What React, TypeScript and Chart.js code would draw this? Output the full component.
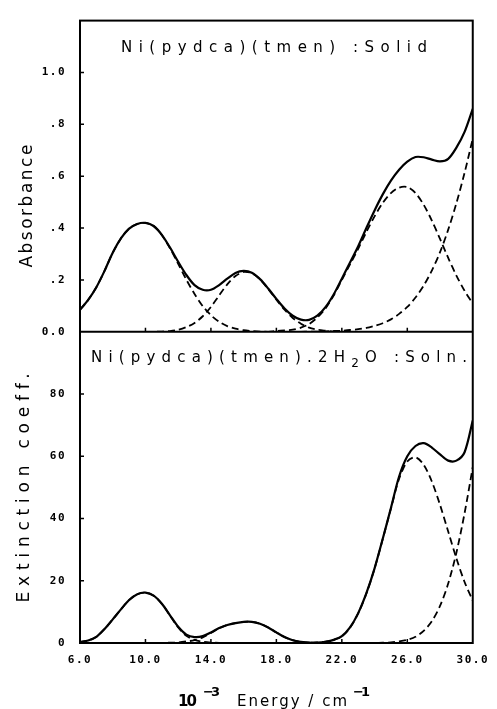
import { useEffect, useRef } from 'react';
import { Chart, registerables } from 'chart.js';

Chart.register(...registerables);

// ---- data ----
const energies = [
  6, 6.5, 7, 7.5, 8, 8.5, 9, 9.5, 10, 10.5,
  11, 11.5, 12, 12.5, 13, 13.5, 14, 14.5, 15, 15.5,
  16, 16.5, 17, 17.5, 18, 18.5, 19, 19.5, 20, 20.5,
  21, 21.5, 22, 22.5, 23, 23.5, 24, 24.5, 25, 25.5,
  26, 26.5, 27, 27.5, 28, 28.5, 29, 29.5, 30,
];

// Solid: absorbance
const solidTotal = [
  0.085, 0.123, 0.172, 0.235, 0.305, 0.36, 0.398, 0.416, 0.42, 0.408,
  0.374, 0.325, 0.27, 0.219, 0.18, 0.162, 0.162, 0.18, 0.205, 0.227,
  0.235, 0.228, 0.203, 0.167, 0.127, 0.09, 0.062, 0.047, 0.046, 0.062,
  0.095, 0.144, 0.205, 0.267, 0.33, 0.4, 0.468, 0.53, 0.583, 0.625,
  0.656, 0.674, 0.673, 0.664, 0.657, 0.667, 0.71, 0.771, 0.86,
];
const solidBand1 = [
  0.085, 0.123, 0.172, 0.235, 0.305, 0.36, 0.398, 0.416, 0.42, 0.408,
  0.373, 0.322, 0.262, 0.201, 0.146, 0.099, 0.064, 0.039, 0.022, 0.012,
  0.006, 0.003, 0.001, 0, 0, 0, 0, 0, 0, 0,
  0, 0, 0, 0, 0, 0, 0, 0, 0, 0,
  0, 0, 0, 0, 0, 0, 0, 0, 0,
];
const solidBand2 = [
  0, 0, 0, 0, 0, 0, 0, 0, 0, 0,
  0.001, 0.003, 0.008, 0.018, 0.034, 0.06, 0.096, 0.14, 0.183, 0.215,
  0.231, 0.226, 0.202, 0.165, 0.124, 0.085, 0.053, 0.031, 0.016, 0.008,
  0.004, 0.001, 0, 0, 0, 0, 0, 0, 0, 0,
  0, 0, 0, 0, 0, 0, 0, 0, 0,
];
const solidBand3 = [
  0, 0, 0, 0, 0, 0, 0, 0, 0, 0,
  0, 0, 0, 0, 0, 0, 0, 0, 0, 0,
  0, 0, 0, 0, 0.003, 0.005, 0.008, 0.016, 0.03, 0.055,
  0.09, 0.14, 0.2, 0.26, 0.32, 0.385, 0.445, 0.497, 0.535, 0.556,
  0.558, 0.535, 0.49, 0.429, 0.358, 0.285, 0.217, 0.158, 0.109,
];
const solidBand4 = [
  0, 0, 0, 0, 0, 0, 0, 0, 0, 0,
  0, 0, 0, 0, 0, 0, 0, 0, 0, 0,
  0, 0, 0, 0, 0, 0, 0, 0, 0.001, 0.001,
  0.002, 0.003, 0.004, 0.007, 0.01, 0.015, 0.023, 0.033, 0.048, 0.069,
  0.096, 0.132, 0.178, 0.236, 0.307, 0.394, 0.496, 0.613, 0.745,
];

// Solution: extinction coefficient
const solnTotal = [
  0.3, 0.8, 2.0, 4.5, 7.6, 10.8, 13.8, 15.7, 16.2, 15.2,
  12.6, 8.9, 5.2, 2.7, 1.9, 2.2, 3.4, 4.8, 5.8, 6.4,
  6.8, 6.8, 6.2, 5.0, 3.4, 1.9, 0.9, 0.4, 0.1, 0.1,
  0.4, 1.0, 2.2, 5.0, 9.6, 16.0, 24.0, 33.5, 43.4, 53.5,
  60.0, 63.3, 64.2, 62.8, 60.6, 58.6, 58.6, 61.3, 71.5,
];
const solnBand1 = [
  0.3, 0.8, 2.0, 4.5, 7.6, 10.8, 13.8, 15.7, 16.2, 15.2,
  12.6, 8.8, 5.0, 2.3, 1.0, 0.4, 0.15, 0.05, 0, 0,
  0, 0, 0, 0, 0, 0, 0, 0, 0, 0,
  0, 0, 0, 0, 0, 0, 0, 0, 0, 0,
  0, 0, 0, 0, 0, 0, 0, 0, 0,
];
const solnBand2 = [
  0, 0, 0, 0, 0, 0, 0, 0, 0, 0,
  0, 0.1, 0.2, 0.5, 0.9, 1.8, 3.2, 4.7, 5.8, 6.4,
  6.8, 6.8, 6.2, 5.0, 3.4, 1.9, 0.9, 0.35, 0.1, 0.03,
  0, 0, 0, 0, 0, 0, 0, 0, 0, 0,
  0, 0, 0, 0, 0, 0, 0, 0, 0,
];
const solnBand3 = [
  0, 0, 0, 0, 0, 0, 0, 0, 0, 0,
  0, 0, 0, 0, 0, 0, 0, 0, 0, 0,
  0, 0, 0, 0, 0, 0, 0, 0, 0.1, 0.2,
  0.4, 1.0, 2.1, 4.9, 9.5, 15.9, 23.9, 33.4, 43.2, 52.8,
  58.3, 59.7, 57.3, 51.9, 44.4, 35.8, 27.2, 19.6, 13.6,
];
const solnBand4 = [
  0, 0, 0, 0, 0, 0, 0, 0, 0, 0,
  0, 0, 0, 0, 0, 0, 0, 0, 0, 0,
  0, 0, 0, 0, 0, 0, 0, 0, 0, 0,
  0, 0, 0, 0, 0, 0.02, 0.04, 0.09, 0.2, 0.5,
  1.0, 2.0, 3.9, 7.0, 11.9, 19.1, 29.0, 41.7, 56.5,
];

// ticks
const xTicks = [6, 10, 14, 18, 22, 26, 30];
const xTickLabels = ['6.0', '10.0', '14.0', '18.0', '22.0', '26.0', '30.0'];
const solidTicks = [0, 0.2, 0.4, 0.6, 0.8, 1.0];
const solidTickLabels = ['0.0', '.2', '.4', '.6', '.8', '1.0'];
const solnTicks = [0, 20, 40, 60, 80];
const solnTickLabels = ['0', '20', '40', '60', '80'];

// texts
const solidTitle = 'Ni(pydca)(tmen) :Solid';
const solnTitleA = 'Ni(pydca)(tmen).2H';
const solnTitleSub = '2';
const solnTitleB = 'O :Soln.';
const solidAxisTitle = 'Absorbance';
const solnAxisTitle = 'Extinction coeff.';

type Part = { text: string; font: string; dy: number };

function drawRun(ctx: CanvasRenderingContext2D, parts: Part[], left: number, baseline: number, width: number) {
  (ctx as any).letterSpacing = '0px';
  let natural = 0;
  let count = 0;
  for (const p of parts) {
    ctx.font = p.font;
    natural += ctx.measureText(p.text).width;
    count += [...p.text].length;
  }
  const sp = count > 1 ? (width - natural) / (count - 1) : 0;
  (ctx as any).letterSpacing = `${sp}px`;
  ctx.textAlign = 'left';
  ctx.textBaseline = 'alphabetic';
  let x = left;
  for (const p of parts) {
    ctx.font = p.font;
    ctx.fillText(p.text, x, baseline + p.dy);
    x += ctx.measureText(p.text).width;
  }
}

const framePlugin = {
  id: 'frame',
  beforeDraw(chart: any) {
    chart.ctx.letterSpacing = '1.5px';
  },
  afterDraw(chart: any) {
    const ctx: CanvasRenderingContext2D = chart.ctx;
    const ca = chart.chartArea;
    const sx = chart.scales.x;
    const yT = chart.scales.yTop;
    const yB = chart.scales.yBot;
    ctx.save();
    (ctx as any).letterSpacing = '0px';
    ctx.strokeStyle = '#000';
    ctx.fillStyle = '#000';
    ctx.lineWidth = 2;
    ctx.strokeRect(ca.left, ca.top, ca.right - ca.left, ca.bottom - ca.top);
    ctx.beginPath();
    ctx.moveTo(ca.left, yT.bottom);
    ctx.lineTo(ca.right, yT.bottom);
    ctx.stroke();

    // inward tick marks
    ctx.lineWidth = 1.5;
    ctx.beginPath();
    for (const v of xTicks.slice(1, -1)) {
      const px = sx.getPixelForValue(v);
      for (const base of [yT.bottom, yB.bottom]) {
        ctx.moveTo(px, base);
        ctx.lineTo(px, base - 4);
      }
    }
    for (const v of solidTicks.slice(1)) {
      const py = yT.getPixelForValue(v);
      ctx.moveTo(ca.left, py);
      ctx.lineTo(ca.left + 4, py);
    }
    for (const v of solnTicks.slice(1)) {
      const py = yB.getPixelForValue(v);
      ctx.moveTo(ca.left, py);
      ctx.lineTo(ca.left + 4, py);
    }
    ctx.stroke();

    // panel titles
    const tf = '15px "DejaVu Sans"';
    drawRun(ctx, [{ text: solidTitle, font: tf, dy: 0 }], ca.left + 41, yT.top + 31, 306);
    drawRun(
      ctx,
      [
        { text: solnTitleA, font: tf, dy: 0 },
        { text: solnTitleSub, font: '12px "DejaVu Sans"', dy: 5 },
        { text: solnTitleB, font: tf, dy: 0 },
      ],
      ca.left + 11,
      yB.top + 30,
      376,
    );

    // y axis titles (rotated)
    const af = '17px "DejaVu Sans"';
    ctx.save();
    ctx.translate(31.5, yT.top + 185.5);
    ctx.rotate(-Math.PI / 2);
    drawRun(ctx, [{ text: solidAxisTitle, font: af, dy: 0 }], -61.5, 0, 123);
    ctx.restore();
    ctx.save();
    ctx.translate(29, (yB.top + yB.bottom) / 2);
    ctx.rotate(-Math.PI / 2);
    drawRun(ctx, [{ text: solnAxisTitle, font: af, dy: 0 }], -115, 0, 230);
    ctx.restore();

    // x axis title: 10^-3 Energy / cm^-1
    drawRun(ctx, [{ text: '10', font: 'bold 15px "DejaVu Sans"', dy: 0 }], 178, 706, 19);
    drawRun(ctx, [{ text: '\u22123', font: 'bold 13px "DejaVu Sans"', dy: 0 }], 203, 696, 17);
    drawRun(ctx, [{ text: 'Energy / cm', font: '15px "DejaVu Sans"', dy: 0 }], 237, 706, 110);
    drawRun(ctx, [{ text: '\u22121', font: 'bold 13px "DejaVu Sans"', dy: 0 }], 353, 696, 17);

    ctx.restore();
  },
};

function mk(arr: number[], yAxisID: string, dashed: boolean) {
  return {
    data: energies.map((x, i) => ({ x, y: arr[i] })),
    yAxisID,
    borderColor: '#000',
    backgroundColor: '#000',
    borderWidth: dashed ? 1.8 : 2.2,
    borderDash: dashed ? [7, 4] : [],
    pointRadius: 0,
    tension: 0.3,
    fill: false,
  };
}

const tickFont = { family: '"DejaVu Sans Mono"', size: 11, weight: 'bold' as const };

export default function App() {
  const ref = useRef<HTMLCanvasElement>(null);
  useEffect(() => {
    if (!ref.current) return;
    const chart = new Chart(ref.current, {
      type: 'line',
      data: {
        datasets: [
          mk(solidTotal, 'yTop', false),
          mk(solnTotal, 'yBot', false),
          mk(solidBand1, 'yTop', true),
          mk(solidBand2, 'yTop', true),
          mk(solidBand3, 'yTop', true),
          mk(solidBand4, 'yTop', true),
          mk(solnBand1, 'yBot', true),
          mk(solnBand2, 'yBot', true),
          mk(solnBand3, 'yBot', true),
          mk(solnBand4, 'yBot', true),
        ] as any,
      },
      options: {
        animation: false,
        responsive: false,
        devicePixelRatio: 1,
        events: [],
        layout: { padding: { top: 11, right: 15, bottom: 0, left: 0 } },
        plugins: { legend: { display: false }, tooltip: { enabled: false } },
        scales: {
          yBot: {
            type: 'linear',
            position: 'left',
            stack: 'panels',
            stackWeight: 1,
            min: 0,
            max: 100,
            afterBuildTicks: (s: any) => {
              s.ticks = solnTicks.map((v) => ({ value: v }));
            },
            afterFit: (s: any) => {
              s.width = 80;
            },
            ticks: {
              callback: (_v: any, i: number) => solnTickLabels[i],
              font: tickFont,
              color: '#000',
              padding: 14,
            },
            grid: { display: false, drawTicks: false },
            border: { display: false },
          },
          yTop: {
            type: 'linear',
            position: 'left',
            stack: 'panels',
            stackWeight: 1,
            min: 0,
            max: 1.2,
            afterBuildTicks: (s: any) => {
              s.ticks = solidTicks.map((v) => ({ value: v }));
            },
            afterFit: (s: any) => {
              s.width = 80;
            },
            ticks: {
              callback: (_v: any, i: number) => solidTickLabels[i],
              font: tickFont,
              color: '#000',
              padding: 14,
            },
            grid: { display: false, drawTicks: false },
            border: { display: false },
          },
          x: {
            type: 'linear',
            position: 'bottom',
            min: 6,
            max: 30,
            afterBuildTicks: (s: any) => {
              s.ticks = xTicks.map((v) => ({ value: v }));
            },
            afterFit: (s: any) => {
              s.height = 66;
            },
            ticks: {
              callback: (_v: any, i: number) => xTickLabels[i],
              font: tickFont,
              color: '#000',
              padding: 11,
              maxRotation: 0,
              autoSkip: false,
            },
            grid: { display: false, drawTicks: false },
            border: { display: false },
          },
        } as any,
      },
      plugins: [framePlugin],
    });
    return () => chart.destroy();
  }, []);
  return (
    <div style={{ position: 'fixed', left: 0, top: 0, width: 497, height: 709, background: '#fff' }}>
      <canvas ref={ref} width={497} height={709} style={{ display: 'block', width: 497, height: 709 }} />
    </div>
  );
}
